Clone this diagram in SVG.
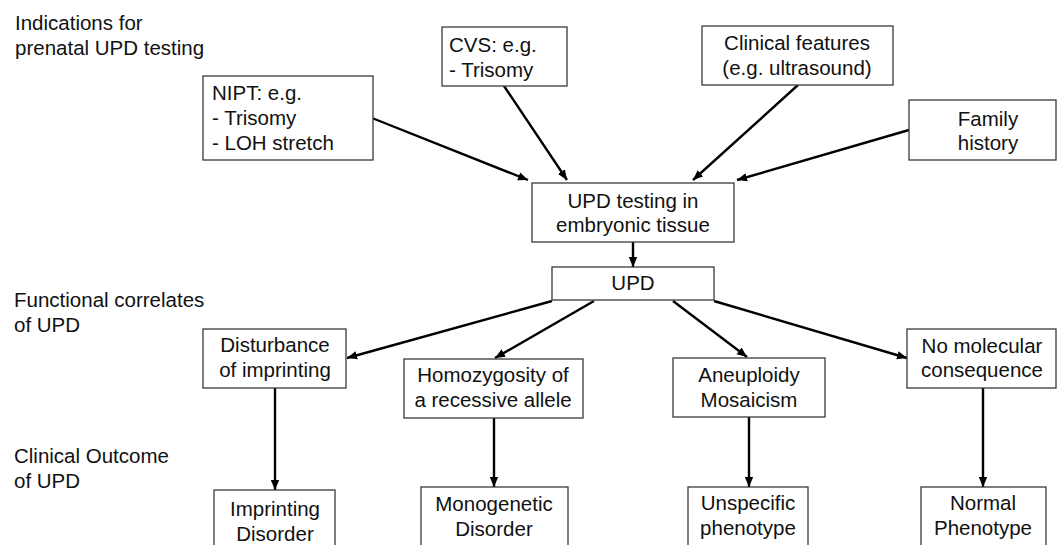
<svg xmlns="http://www.w3.org/2000/svg" width="1057" height="545" viewBox="0 0 1057 545">
<style>
  .box { fill: #ffffff; stroke: #3a3a3a; stroke-width: 1.3; }
  text { font-family: "Liberation Sans", Arial, sans-serif; font-size: 20.5px; fill: #111111; }
  .c { text-anchor: middle; }
  .edge { stroke: #000000; stroke-width: 2.4; fill: none; marker-end: url(#arrow); }
</style>
<defs>
  <marker id="arrow" markerUnits="userSpaceOnUse" markerWidth="12" markerHeight="10" refX="10" refY="5" orient="auto">
    <path d="M0,0.8 L10,5 L0,9.2 Z" fill="#000000"/>
  </marker>
</defs>
<rect width="1057" height="545" fill="#ffffff"/>

<g id="labels">
  <text x="15" y="30">Indications for</text>
  <text x="15" y="55">prenatal UPD testing</text>
  <text x="14" y="307">Functional correlates</text>
  <text x="14" y="332">of UPD</text>
  <text x="14" y="463">Clinical Outcome</text>
  <text x="14" y="488">of UPD</text>
</g>

<g id="connectors">
  <line class="edge" x1="372" y1="118" x2="528" y2="180"/>
  <line class="edge" x1="504" y1="86" x2="567" y2="180"/>
  <line class="edge" x1="798" y1="85" x2="693" y2="180"/>
  <line class="edge" x1="909" y1="130" x2="737" y2="180"/>
  <line class="edge" x1="633" y1="242" x2="633" y2="267"/>
  <line class="edge" x1="552" y1="301" x2="347" y2="358"/>
  <line class="edge" x1="594" y1="301" x2="495" y2="358"/>
  <line class="edge" x1="673" y1="301" x2="747" y2="357"/>
  <line class="edge" x1="714" y1="301" x2="907" y2="358"/>
  <line class="edge" x1="275" y1="388" x2="275" y2="490"/>
  <line class="edge" x1="494" y1="418" x2="494" y2="487"/>
  <line class="edge" x1="749" y1="417" x2="749" y2="487"/>
  <line class="edge" x1="983" y1="388" x2="983" y2="487"/>
</g>

<g id="nipt">
  <rect class="box" x="203" y="76" width="170" height="84"/>
  <text x="212" y="100">NIPT: e.g.</text>
  <text x="212" y="125">- Trisomy</text>
  <text x="212" y="150">- LOH stretch</text>
</g>
<g id="cvs">
  <rect class="box" x="442" y="27" width="125" height="59"/>
  <text x="449" y="52">CVS: e.g.</text>
  <text x="449" y="77">- Trisomy</text>
</g>
<g id="clinical-features">
  <rect class="box" x="702" y="26" width="191" height="59"/>
  <text class="c" x="797" y="50">Clinical features</text>
  <text class="c" x="797" y="75">(e.g. ultrasound)</text>
</g>
<g id="family-history">
  <rect class="box" x="909" y="100" width="147" height="60"/>
  <text class="c" x="988" y="126">Family</text>
  <text class="c" x="988" y="150">history</text>
</g>
<g id="upd-testing">
  <rect class="box" x="532" y="183" width="202" height="59"/>
  <text class="c" x="633" y="208">UPD testing in</text>
  <text class="c" x="633" y="232">embryonic tissue</text>
</g>
<g id="upd">
  <rect class="box" x="552" y="267" width="162" height="33"/>
  <text class="c" x="633" y="290">UPD</text>
</g>
<g id="disturbance">
  <rect class="box" x="203" y="329" width="143" height="59"/>
  <text class="c" x="275" y="352">Disturbance</text>
  <text class="c" x="275" y="377">of imprinting</text>
</g>
<g id="homozygosity">
  <rect class="box" x="404" y="359" width="179" height="59"/>
  <text class="c" x="493" y="382">Homozygosity of</text>
  <text class="c" x="493" y="407">a recessive allele</text>
</g>
<g id="aneuploidy">
  <rect class="box" x="673" y="358" width="152" height="59"/>
  <text class="c" x="749" y="382">Aneuploidy</text>
  <text class="c" x="749" y="407">Mosaicism</text>
</g>
<g id="no-molecular">
  <rect class="box" x="907" y="329" width="149" height="59"/>
  <text class="c" x="982" y="353">No molecular</text>
  <text class="c" x="982" y="377">consequence</text>
</g>
<g id="imprinting-disorder">
  <rect class="box" x="214" y="490" width="121" height="60"/>
  <text class="c" x="275" y="516">Imprinting</text>
  <text class="c" x="275" y="541">Disorder</text>
</g>
<g id="monogenetic-disorder">
  <rect class="box" x="421" y="487" width="147" height="63"/>
  <text class="c" x="494" y="511">Monogenetic</text>
  <text class="c" x="494" y="536">Disorder</text>
</g>
<g id="unspecific-phenotype">
  <rect class="box" x="688" y="487" width="120" height="63"/>
  <text class="c" x="748" y="510">Unspecific</text>
  <text class="c" x="748" y="535">phenotype</text>
</g>
<g id="normal-phenotype">
  <rect class="box" x="921" y="487" width="125" height="63"/>
  <text class="c" x="983" y="510">Normal</text>
  <text class="c" x="983" y="535">Phenotype</text>
</g>
</svg>
